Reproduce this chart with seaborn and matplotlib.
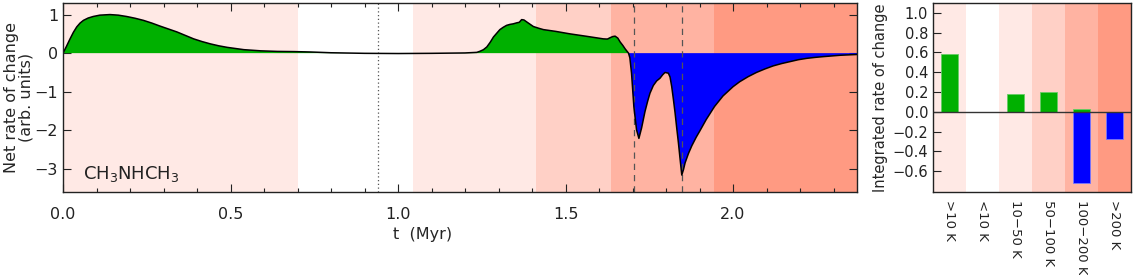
import numpy as np
import pandas as pd
import matplotlib.pyplot as plt
import seaborn as sns

# net rate of change of CH3NHCH3 vs time
t_myr = [0.00, 0.01, 0.021, 0.031, 0.041, 0.051, 0.061, 0.075, 0.09, 0.11, 0.14, 0.165, 0.19, 0.215,
         0.24, 0.265, 0.29, 0.315, 0.34, 0.365, 0.39, 0.415, 0.44, 0.465, 0.49, 0.54, 0.59, 0.64,
         0.69, 0.74, 0.80, 0.90, 1.00, 1.10, 1.20, 1.235, 1.245, 1.255, 1.265, 1.275, 1.285, 1.295,
         1.304, 1.314, 1.324, 1.334, 1.344, 1.354, 1.362, 1.369, 1.376, 1.384, 1.394, 1.404, 1.42,
         1.434, 1.47, 1.513, 1.56, 1.613, 1.625, 1.633, 1.641, 1.648, 1.656, 1.663, 1.671, 1.678,
         1.688, 1.692, 1.697, 1.704, 1.712, 1.719, 1.727, 1.737, 1.745, 1.752, 1.762, 1.772, 1.782,
         1.79, 1.797, 1.807, 1.812, 1.817, 1.822, 1.827, 1.832, 1.837, 1.842, 1.847, 1.852, 1.857,
         1.867, 1.877, 1.89, 1.90, 1.92, 1.945, 1.97, 2.00, 2.02, 2.045, 2.07, 2.095, 2.12, 2.145,
         2.17, 2.195, 2.22, 2.245, 2.27, 2.32, 2.37]
rate = [0.00, 0.17, 0.37, 0.54, 0.68, 0.78, 0.85, 0.91, 0.95, 0.985, 1.00, 0.985, 0.95, 0.905,
        0.85, 0.78, 0.70, 0.625, 0.55, 0.46, 0.37, 0.30, 0.24, 0.19, 0.15, 0.09, 0.06, 0.045,
        0.04, 0.03, 0.01, -0.005, -0.01, -0.005, 0.005, 0.02, 0.05, 0.09, 0.16, 0.28, 0.42, 0.52,
        0.61, 0.67, 0.72, 0.745, 0.76, 0.785, 0.80, 0.87, 0.86, 0.81, 0.75, 0.69, 0.645,
        0.61, 0.565, 0.50, 0.44, 0.37, 0.365, 0.40, 0.43, 0.44, 0.39, 0.29, 0.20, 0.11,
        0.0, -0.12, -0.52, -1.39, -1.99, -2.21, -1.94, -1.52, -1.25, -1.04, -0.84, -0.72, -0.65,
        -0.56, -0.50, -0.52, -0.62, -0.87, -1.2, -1.55, -1.95, -2.33, -2.75, -3.16, -3.02, -2.84,
        -2.60, -2.40, -2.18, -2.03, -1.72, -1.38, -1.11, -0.87, -0.74, -0.61, -0.50, -0.41, -0.33,
        -0.27, -0.22, -0.17, -0.135, -0.11, -0.09, -0.055, -0.035]

# temperature regimes shaded behind both panels
band_edges = [0.0, 0.70, 1.045, 1.412, 1.636, 1.943, 2.37]
band_colors = ['#ffe9e5', '#ffffff', '#ffe9e5', '#ffd0c6', '#ffb3a2', '#ff9a82']
dashed_t = [1.705, 1.848]
dotted_t = 0.94

# integrated rate of change per temperature bin
temp_bins = ['>10 K', '<10 K', '10\u221250 K', '50\u2212100 K', '100\u2212200 K', '>200 K']
gain = [0.58, 0.0, 0.18, 0.20, 0.03, 0.0]
loss = [0.0, -0.006, 0.0, 0.0, -0.72, -0.27]

green = '#00b000'
blue = '#0000ff'

sns.set_style('ticks')
plt.rcParams['font.family'] = ['DejaVu Sans']
plt.rcParams['axes.linewidth'] = 1.0

fig = plt.figure(figsize=(11.42, 2.75), dpi=100)
ax1 = fig.add_axes([63 / 1142, 83 / 275, 794 / 1142, 189 / 275])
ax2 = fig.add_axes([933 / 1142, 83 / 275, 198 / 1142, 189 / 275])

# ---- left panel: rate vs time
for i, c in enumerate(band_colors):
    ax1.axvspan(band_edges[i], band_edges[i + 1], color=c, lw=0, zorder=0)

t = np.array(t_myr)
r = np.array(rate)
ax1.fill_between(t, r, 0, where=r >= 0, interpolate=True, color=green, lw=0, zorder=1)
ax1.fill_between(t, r, 0, where=r <= 0, interpolate=True, color=blue, lw=0, zorder=1)
sns.lineplot(x=t_myr, y=rate, color='black', lw=1.1, ax=ax1, zorder=3)

for x in dashed_t:
    ax1.axvline(x, color='#555555', lw=0.9, dashes=(5, 4), zorder=2)
ax1.axvline(dotted_t, color='#555555', lw=0.9, ls=(0, (1, 2)), zorder=2)

ax1.set_xlim(0, 2.37)
ax1.set_ylim(-3.6, 1.3)
ax1.set_xticks([0.0, 0.5, 1.0, 1.5, 2.0])
ax1.set_xticks(np.arange(0, 2.4, 0.1), minor=True)
ax1.set_yticks([-3, -2, -1, 0, 1])
ax1.set_yticklabels(['\u22123', '\u22122', '\u22121', '0', '1'])
ax1.tick_params(which='both', direction='in', top=True, right=True, colors='#222222', labelsize=11.5)
ax1.tick_params(which='major', length=6, width=0.8)
ax1.tick_params(which='minor', length=3, width=0.8)
ax1.tick_params(axis='x', pad=11)
ax1.set_xlabel('t  (Myr)', fontsize=11.5)
ax1.xaxis.set_label_coords(0.453, -0.185)
ax1.set_ylabel('Net rate of change\n(arb. units)', fontsize=11.5, linespacing=0.9, labelpad=1)
ax1.text(0.06, -3.25, r'CH$_3$NHCH$_3$', fontsize=13, color='#222222', zorder=4)

# ---- right panel: integrated rate per bin
for i, c in enumerate(band_colors):
    ax2.axvspan(i - 0.5, i + 0.5, color=c, lw=0, zorder=0)

sns.barplot(x=temp_bins, y=gain, color=green, saturation=1, width=0.5, ax=ax2,
            edgecolor='#66cc66', linewidth=0.6, zorder=2)
sns.barplot(x=temp_bins, y=loss, color=blue, saturation=1, width=0.5, ax=ax2,
            edgecolor='#7777ff', linewidth=0.6, zorder=2)
ax2.axhline(0, color='#333333', lw=1.0, zorder=3)

ax2.set_xlim(-0.5, 5.5)
ax2.set_ylim(-0.81, 1.1)
yt = [-0.6, -0.4, -0.2, 0.0, 0.2, 0.4, 0.6, 0.8, 1.0]
ax2.set_yticks(yt)
ax2.set_yticklabels([f'{v:.1f}'.replace('-', '\u2212') for v in yt])
ax2.tick_params(axis='y', direction='in', length=6, width=0.8, colors='#222222', labelsize=10.5)
ax2.tick_params(axis='x', length=0, labelsize=9.5, labelcolor='#222222', pad=6)
ax2.set_xticks(range(len(temp_bins)))
ax2.set_xticklabels(temp_bins, rotation=-90, va='top', ha='center')
ax2.set_ylabel('Integrated rate of change', fontsize=10.5, labelpad=3)

for ax in (ax1, ax2):
    for s in ax.spines.values():
        s.set_visible(True)
        s.set_color('#222222')
        s.set_zorder(5)

fig.savefig('out.png', dpi=100)
